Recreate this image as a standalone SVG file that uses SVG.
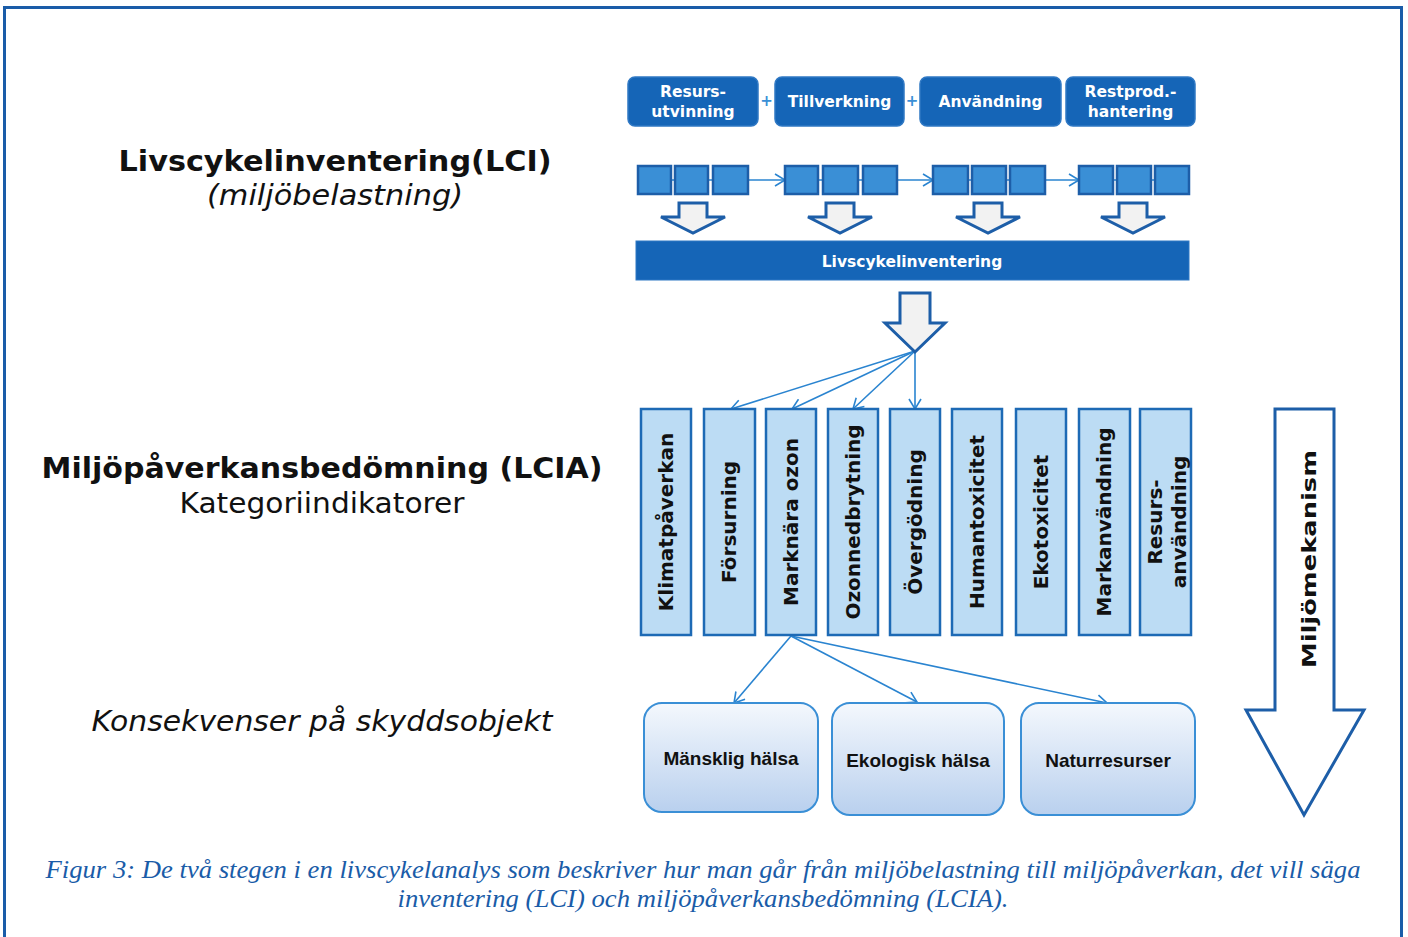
<svg xmlns="http://www.w3.org/2000/svg" width="1408" height="937" viewBox="0 0 1408 937">
<defs>
<style>
.frame{fill:none;stroke:#1a5ca8;stroke-width:3}
.top{fill:#1565b7;stroke:#2f78c4;stroke-width:1.5}
.topt{font-family:"DejaVu Sans",Verdana,sans-serif;font-weight:bold;font-size:15.5px;fill:#ffffff;text-anchor:middle}
.sq{fill:#3a8fd6;stroke:#1d5ea8;stroke-width:2.5}
.hol{fill:#f2f2f2;stroke:#1d5ea8;stroke-width:3;stroke-linejoin:miter}
.bar{fill:#1565b7;stroke:#2f78c4;stroke-width:1}
.cat{fill:#bcdcf4;stroke:#1d6ab5;stroke-width:2.5}
.catt{font-family:"DejaVu Sans",Verdana,sans-serif;font-weight:bold;font-size:20px;fill:#111111;text-anchor:middle}
.res{fill:url(#g);stroke:#3a8fd6;stroke-width:2}
.rest{font-family:"Liberation Sans",Arial,sans-serif;font-weight:bold;font-size:19px;fill:#111111;text-anchor:middle}
.con{fill:none;stroke:#2a84d0;stroke-width:1.6}
.lbl{font-family:"DejaVu Sans",Verdana,sans-serif;font-size:29px;fill:#111111;text-anchor:middle}
.cap{font-family:"Liberation Serif","Times New Roman",serif;font-style:italic;font-size:25px;fill:#1a5ca8;text-anchor:middle}
</style>
<linearGradient id="g" x1="0" y1="0" x2="0" y2="1">
<stop offset="0" stop-color="#f4f8fd"/>
<stop offset="1" stop-color="#b9d0ee"/>
</linearGradient>
<marker id="ah" markerUnits="userSpaceOnUse" markerWidth="14" markerHeight="14" viewBox="0 0 14 14" refX="12" refY="7" orient="auto">
<path d="M2,1 L12,7 L2,13" fill="none" stroke="#2a84d0" stroke-width="1.6"/>
</marker>
</defs>
<rect width="1408" height="937" fill="#ffffff"/>
<path class="frame" d="M4.5,940 V7.5 H1401.5 V940"/>

<g id="lbl-lci">
<text class="lbl" x="335" y="171" font-weight="bold" textLength="433" lengthAdjust="spacingAndGlyphs">Livscykelinventering(LCI)</text>
<text class="lbl" x="335" y="205" font-style="italic" textLength="256" lengthAdjust="spacingAndGlyphs">(miljöbelastning)</text>
</g>
<g id="lbl-lcia">
<text class="lbl" x="322" y="478" font-weight="bold" textLength="561" lengthAdjust="spacingAndGlyphs">Miljöpåverkansbedömning (LCIA)</text>
<text class="lbl" x="322" y="513" textLength="285" lengthAdjust="spacingAndGlyphs">Kategoriindikatorer</text>
</g>
<g id="lbl-kons">
<text class="lbl" x="322" y="731" font-style="italic" textLength="461" lengthAdjust="spacingAndGlyphs">Konsekvenser på skyddsobjekt</text>
</g>

<g id="phase1"><rect class="top" x="628" y="77" width="130" height="49" rx="7"/><text class="topt" x="693" y="97">Resurs-</text><text class="topt" x="693" y="117">utvinning</text></g>
<g id="phase2"><rect class="top" x="775" y="77" width="129" height="49" rx="7"/><text class="topt" x="839.5" y="107">Tillverkning</text></g>
<g id="phase3"><rect class="top" x="920" y="77" width="141" height="49" rx="7"/><text class="topt" x="990.5" y="107">Användning</text></g>
<g id="phase4"><rect class="top" x="1066" y="77" width="129" height="49" rx="7"/><text class="topt" x="1130.5" y="97">Restprod.-</text><text class="topt" x="1130.5" y="117">hantering</text></g>
<g id="plus" font-family="DejaVu Sans,sans-serif" font-weight="bold" font-size="15" fill="#3a8fd6" text-anchor="middle">
<text x="766.5" y="106">+</text><text x="912" y="106">+</text>
</g>

<g id="connectors">
<path class="con" d="M670,180 H676 M708,180 H713 M818,180 H823 M858,180 H863 M968,180 H972 M1006,180 H1010 M1113,180 H1117 M1151,180 H1155"/>
<line class="con" x1="749" y1="180" x2="785" y2="180" marker-end="url(#ah)"/>
<line class="con" x1="897" y1="180" x2="933" y2="180" marker-end="url(#ah)"/>
<line class="con" x1="1045" y1="180" x2="1079" y2="180" marker-end="url(#ah)"/>
<line class="con" x1="915" y1="351" x2="731" y2="409" marker-end="url(#ah)"/>
<line class="con" x1="915" y1="351" x2="792" y2="409" marker-end="url(#ah)"/>
<line class="con" x1="915" y1="351" x2="853" y2="409" marker-end="url(#ah)"/>
<line class="con" x1="915" y1="351" x2="915" y2="409" marker-end="url(#ah)"/>
<line class="con" x1="791" y1="636" x2="734" y2="703" marker-end="url(#ah)"/>
<line class="con" x1="791" y1="636" x2="917" y2="702" marker-end="url(#ah)"/>
<line class="con" x1="791" y1="636" x2="1107" y2="703" marker-end="url(#ah)"/>
</g>

<g id="steps">
<rect class="sq" x="638" y="166" width="33" height="28"/><rect class="sq" x="675" y="166" width="33" height="28"/><rect class="sq" x="713" y="166" width="35" height="28"/>
<rect class="sq" x="785" y="166" width="33" height="28"/><rect class="sq" x="823" y="166" width="35" height="28"/><rect class="sq" x="863" y="166" width="34" height="28"/>
<rect class="sq" x="933" y="166" width="35" height="28"/><rect class="sq" x="972" y="166" width="34" height="28"/><rect class="sq" x="1010" y="166" width="35" height="28"/>
<rect class="sq" x="1079" y="166" width="34" height="28"/><rect class="sq" x="1117" y="166" width="34" height="28"/><rect class="sq" x="1155" y="166" width="34" height="28"/>
</g>

<g id="down-arrows">
<path class="hol" d="M679,203 H707 V217 H725 L693,233 L661,217 H679 Z"/>
<path class="hol" d="M826,203 H854 V217 H872 L840,233 L808,217 H826 Z"/>
<path class="hol" d="M974,203 H1002 V217 H1020 L988,233 L956,217 H974 Z"/>
<path class="hol" d="M1119,203 H1147 V217 H1165 L1133,233 L1101,217 H1119 Z"/>
</g>

<g id="lci-bar"><rect class="bar" x="636" y="241" width="553" height="39"/><text class="topt" x="912" y="267" font-size="16.5px">Livscykelinventering</text></g>

<g id="big-arrow"><path class="hol" d="M900,293 H930 V323 H945 L915,352 L885,323 H900 Z"/></g>

<g id="categories">
<g id="c1"><rect class="cat" x="641" y="409" width="50" height="226"/><text class="catt" transform="translate(673,522) rotate(-90)">Klimatpåverkan</text></g>
<g id="c2"><rect class="cat" x="704" y="409" width="51" height="226"/><text class="catt" transform="translate(736,522) rotate(-90)">Försurning</text></g>
<g id="c3"><rect class="cat" x="766" y="409" width="50" height="226"/><text class="catt" transform="translate(798,522) rotate(-90)">Marknära ozon</text></g>
<g id="c4"><rect class="cat" x="828" y="409" width="50" height="226"/><text class="catt" transform="translate(860,522) rotate(-90)">Ozonnedbrytning</text></g>
<g id="c5"><rect class="cat" x="890" y="409" width="50" height="226"/><text class="catt" transform="translate(922,522) rotate(-90)">Övergödning</text></g>
<g id="c6"><rect class="cat" x="952" y="409" width="50" height="226"/><text class="catt" transform="translate(984,522) rotate(-90)">Humantoxicitet</text></g>
<g id="c7"><rect class="cat" x="1016" y="409" width="50" height="226"/><text class="catt" transform="translate(1048,522) rotate(-90)">Ekotoxicitet</text></g>
<g id="c8"><rect class="cat" x="1079" y="409" width="51" height="226"/><text class="catt" transform="translate(1111,522) rotate(-90)">Markanvändning</text></g>
<g id="c9"><rect class="cat" x="1140" y="409" width="51" height="226"/><text class="catt" transform="translate(1162,522) rotate(-90)">Resurs-</text><text class="catt" transform="translate(1186,522) rotate(-90)">användning</text></g>
</g>

<g id="r1"><rect class="res" x="644" y="703" width="174" height="109" rx="18"/><text class="rest" x="731" y="765">Mänsklig hälsa</text></g>
<g id="r2"><rect class="res" x="832" y="703" width="172" height="112" rx="18"/><text class="rest" x="918" y="767">Ekologisk hälsa</text></g>
<g id="r3"><rect class="res" x="1021" y="703" width="174" height="112" rx="18"/><text class="rest" x="1108" y="767">Naturresurser</text></g>

<g id="mekanism">
<path d="M1275,409 H1334 V710 H1364 L1304,815 L1246,710 H1275 Z" fill="#ffffff" stroke="#1d5ea8" stroke-width="3"/>
<text class="catt" font-size="29px" transform="translate(1316,559) rotate(-90)" textLength="218" lengthAdjust="spacingAndGlyphs">Miljömekanism</text>
</g>

<g id="caption">
<text class="cap" x="703" y="878" textLength="1315" lengthAdjust="spacingAndGlyphs">Figur 3: De två stegen i en livscykelanalys som beskriver hur man går från miljöbelastning till miljöpåverkan, det vill säga</text>
<text class="cap" x="703" y="907" textLength="611" lengthAdjust="spacingAndGlyphs">inventering (LCI) och miljöpåverkansbedömning (LCIA).</text>
</g>
</svg>
